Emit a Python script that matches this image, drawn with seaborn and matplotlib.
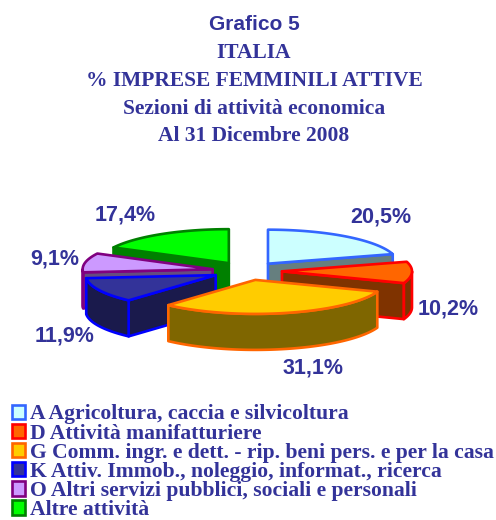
import numpy as np
import matplotlib
matplotlib.use("Agg")
import matplotlib.pyplot as plt
from matplotlib.patches import Polygon, Patch
import seaborn as sns

categories = ["A Agricoltura, caccia e silvicoltura",
              "D Attività manifatturiere",
              "G Comm. ingr. e dett. - rip. beni pers. e per la casa",
              "K Attiv. Immob., noleggio, informat., ricerca",
              "O Altri servizi pubblici, sociali e personali",
              "Altre attività"]
shares = [20.5, 10.2, 31.1, 11.9, 9.1, 17.4]
value_labels = ["20,5%", "10,2%", "31,1%", "11,9%", "9,1%", "17,4%"]
top_hex = ["#CCFFFF", "#FF6600", "#FFCC00", "#333399", "#CC99FF", "#00FF00"]
edge_hex = ["#3366FF", "#FF0000", "#FF6600", "#0000FF", "#800080", "#008000"]
wall_hex = ["#667F7F", "#7F3300", "#7F6600", "#1A1A4C", "#664C7F", "#008000"]
title_lines = ["Grafico 5", "ITALIA", "% IMPRESE FEMMINILI ATTIVE",
               "Sezioni di attività economica", "Al 31 Dicembre 2008"]

# layout
CX, CY, RX, RY, DEPTH, EXPLODE = 247, 271, 130, 34, 36, 35
INK = "#333399"
label_xy = [(381, 217), (448, 309), (313, 368), (65, 336), (55, 259), (125, 215)]
title_y = [25, 53, 81, 109, 136]
draw_order = [5, 0, 4, 1, 3, 2]

sns.set_theme(style="white")
tops = sns.color_palette(top_hex)
edges = sns.color_palette(edge_hex)
walls = sns.color_palette(wall_hex)

fig = plt.figure(figsize=(4.96, 5.2), dpi=100, facecolor="white")
ax = fig.add_axes([0, 0, 1, 1])
ax.set_xlim(0, 496)
ax.set_ylim(520, 0)
ax.axis("off")


def rim(a, b, ox, oy):
    t = np.radians(np.linspace(a, b, max(2, int(abs(b - a)) + 2)))
    return np.column_stack([ox + RX * np.sin(t), oy - RY * np.cos(t)])


def extrude(pts):
    return np.vstack([pts, (pts + [0, DEPTH])[::-1]])


bounds = np.concatenate([[0], np.cumsum(shares)]) / np.sum(shares) * 360
LW = 1.9
for i in draw_order:
    a, b = bounds[i], bounds[i + 1]
    m = np.radians((a + b) / 2)
    ox = CX + EXPLODE * np.sin(m)
    oy = CY - EXPLODE * (RY / RX) * np.cos(m)
    apex = np.array([[ox, oy]])
    style = dict(edgecolor=edges[i], linewidth=LW, joinstyle="round")
    if np.sin(np.radians(a)) < -1e-6:
        ax.add_patch(Polygon(extrude(np.vstack([apex, rim(a, a, ox, oy)[:1]])),
                             facecolor=walls[i], **style))
    if np.sin(np.radians(b)) > 1e-6:
        ax.add_patch(Polygon(extrude(np.vstack([apex, rim(b, b, ox, oy)[:1]])),
                             facecolor=walls[i], **style))
    lo, hi = max(a, 90), min(b, 270)
    if hi > lo:
        ax.add_patch(Polygon(extrude(rim(lo, hi, ox, oy)),
                             facecolor=walls[i], **style))
    ax.add_patch(Polygon(np.vstack([apex, rim(a, b, ox, oy)]),
                         facecolor=tops[i], **style))

for txt, (x, y) in zip(value_labels, label_xy):
    ax.text(x, y, txt, ha="center", va="center", color=INK, fontsize=15.5,
            fontweight="bold", family="Liberation Sans")

for k, (txt, y) in enumerate(zip(title_lines, title_y)):
    ax.text(254, y, txt, ha="center", va="center", color=INK,
            fontsize=15 if k == 0 else 15.5, fontweight="bold",
            family="Liberation Sans" if k == 0 else "Liberation Serif")

handles = [Patch(facecolor=tops[i], edgecolor=edges[i], linewidth=1.9, label=categories[i])
           for i in range(len(categories))]
leg = ax.legend(handles=handles, loc="upper left", bbox_to_anchor=(11.5 / 496, 1 - 404.5 / 520),
                frameon=False, borderpad=0, borderaxespad=0, handlelength=0.63,
                handleheight=0.63, handletextpad=0.24, labelspacing=-0.04,
                prop={"family": "Liberation Serif", "weight": "bold", "size": 15.6})
for t in leg.get_texts():
    t.set_color(INK)

fig.savefig("out.png", dpi=100, facecolor="white")
